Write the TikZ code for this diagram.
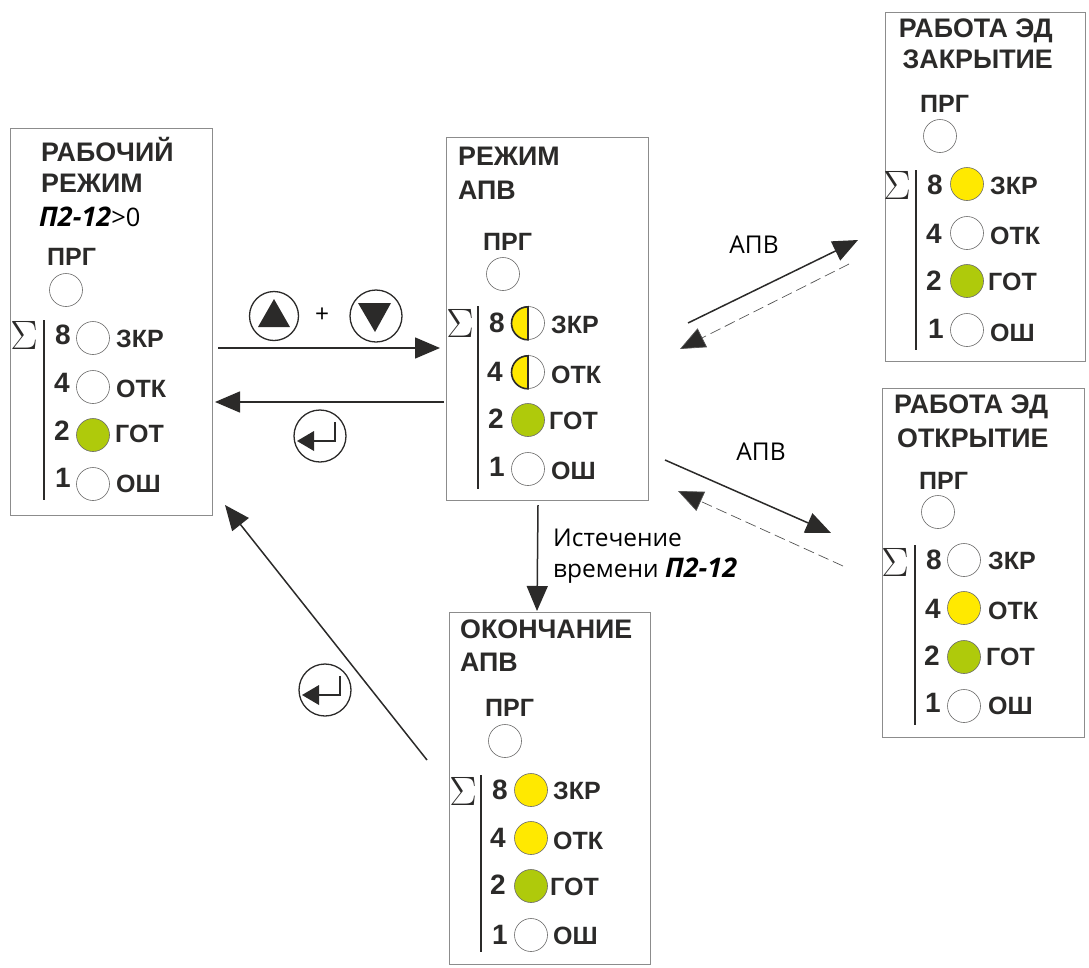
\documentclass[tikz,border=0pt]{standalone}
\usepackage{fontspec}
\setmainfont{Liberation Sans}
\newfontfamily\capfont{Open Sans}
\usetikzlibrary{arrows.meta}
\definecolor{ink}{HTML}{2B2A29}
\definecolor{ledy}{HTML}{FFE900}
\definecolor{ledg}{HTML}{AFCA0B}
\definecolor{frame}{HTML}{8C8C8C}
\tikzset{
  panel/.style={draw=frame,line width=1pt,fill=white,minimum width=0pt,minimum height=0pt,inner sep=0pt},
  ttl/.style={font=\bfseries\fontsize{26.8}{26.8}\selectfont,text=ink,anchor=west,inner sep=0pt,yshift=1.5pt},
  lab/.style={font=\bfseries\fontsize{25}{25}\selectfont,text=ink,anchor=west,inner sep=0pt},
  dig/.style={font=\bfseries\fontsize{28}{28}\selectfont,text=ink,inner sep=0pt},
  led/.style={circle,draw=ink!70,line width=.6pt,minimum size=33pt,inner sep=0pt},
  sig/.style={font=\fontsize{34}{34}\selectfont,text=ink,inner sep=0pt,scale=1.65},
  captxt/.style={font=\capfont\fontsize{24.5}{24.5}\selectfont,text=black,inner sep=0pt},
  btn/.style={circle,draw=ink,line width=1.3pt,inner sep=0pt},
  arr/.style={draw=ink,line width=1.5pt,-{Triangle[length=25pt,width=21pt,fill=ink]}},
  darr/.style={draw=ink!80,line width=.7pt,dash pattern=on 11pt off 5pt,-{Triangle[length=25pt,width=21pt,fill=ink]}},
}
% \ledrow{id}{digit}{dx,dy}{cx,cy}{fill}{lx,ly}{label}
\newcommand{\ledrow}[7]{%
  \node[dig] (#1d) at (#3) {#2};
  \node[led,fill=#5] (#1c) at (#4) {};
  \node[lab] (#1l) at (#6) {#7};
}
\newcommand{\ledhalf}[7]{%
  \node[dig] (#1d) at (#3) {#2};
  \node[led,fill=white] (#1c) at (#4) {};
  \filldraw[fill=#5,draw=ink,line width=1.6pt] (#1c.south) arc[start angle=-90,end angle=-270,radius=16.5pt] -- cycle;
  \node[lab] (#1l) at (#6) {#7};
}
\begin{document}
\begin{tikzpicture}[x=1pt,y=-1pt]
\useasboundingbox (0,0) rectangle (1089,967);
% ---- panels
\node[panel,minimum width=202pt,minimum height=387pt] (pa) at (111,321.5) {};
\node[panel,minimum width=202pt,minimum height=363pt] (pb) at (547,318.5) {};
\node[panel,minimum width=200pt,minimum height=349pt] (pc) at (985,186.5) {};
\node[panel,minimum width=202pt,minimum height=349pt] (pd) at (983,562.5) {};
\node[panel,minimum width=201pt,minimum height=352pt] (pe) at (549.5,788) {};
% ---- panel A
\node[ttl] (at1) at (41,151) {РАБОЧИЙ};
\node[ttl] (at2) at (41,185) {РЕЖИМ};
\node[anchor=west,inner sep=0pt,font=\capfont\fontsize{25.5}{25.5}\selectfont] (at3) at (39,217) {{\fontsize{27}{27}\selectfont\textbf{\textit{П2-12}}}>0};
\node[lab] (aprg) at (47,257) {ПРГ};
\node[led] (aled) at (66,290) {};
\node[sig] (asig) at (24,335) {$\Sigma$};
\coordinate (av1) at (44,320); \coordinate (av2) at (44,500);
\draw[ink,line width=1.3pt] (av1) -- (av2);
\ledrow{a8}{8}{63,335}{93,338}{white}{116,339}{ЗКР}
\ledrow{a4}{4}{62,383}{93,387}{white}{116,389}{ОТК}
\ledrow{a2}{2}{62,431}{93,435}{ledg}{115,434}{ГОТ}
\ledrow{a1}{1}{63,478}{93,484}{white}{116,484}{ОШ}
% ---- panel B
\node[ttl] (bt1) at (458,158) {РЕЖИМ};
\node[ttl] (bt2) at (458,192) {АПВ};
\node[lab] (bprg) at (483,242) {ПРГ};
\node[led] (bled) at (503,274) {};
\node[sig] (bsig) at (460,323) {$\Sigma$};
\coordinate (bv1) at (478,306); \coordinate (bv2) at (478,489);
\draw[ink,line width=1.3pt] (bv1) -- (bv2);
\ledhalf{b8}{8}{497,323}{528,323}{ledy}{551,325}{ЗКР}
\ledhalf{b4}{4}{495,372}{528,372}{ledy}{551,375}{ОТК}
\ledrow{b2}{2}{496,419}{528,420}{ledg}{549,421}{ГОТ}
\ledrow{b1}{1}{497,467}{528,469}{white}{551,471}{ОШ}
% ---- panel C
\node[ttl,anchor=east] (ct1) at (1053,32) {РАБОТА ЭД};
\node[ttl,anchor=east] (ct2) at (1053,61) {ЗАКРЫТИЕ};
\node[lab] (cprg) at (920,104) {ПРГ};
\node[led] (cled) at (940,136) {};
\node[sig] (csig) at (897,185) {$\Sigma$};
\coordinate (cv1) at (916,170); \coordinate (cv2) at (916,350);
\draw[ink,line width=1.3pt] (cv1) -- (cv2);
\ledrow{c8}{8}{935,185}{967,184}{ledy}{990,186}{ЗКР}
\ledrow{c4}{4}{934,234}{967,233}{white}{990,236}{ОТК}
\ledrow{c2}{2}{934,281}{967,281}{ledg}{988,282}{ГОТ}
\ledrow{c1}{1}{936,329}{967,330}{white}{990,333}{ОШ}
% ---- panel D
\node[ttl] (dt1) at (894,408) {РАБОТА ЭД};
\node[ttl] (dt2) at (897,440) {ОТКРЫТИЕ};
\node[lab] (dprg) at (919,481) {ПРГ};
\node[led] (dled) at (938,512) {};
\node[sig] (dsig) at (895,562) {$\Sigma$};
\coordinate (dv1) at (915,545); \coordinate (dv2) at (915,725);
\draw[ink,line width=1.3pt] (dv1) -- (dv2);
\ledrow{d8}{8}{934,560}{964,560}{white}{988,561}{ЗКР}
\ledrow{d4}{4}{933,609}{964,608}{ledy}{988,611}{ОТК}
\ledrow{d2}{2}{932,656}{964,657}{ledg}{986,657}{ГОТ}
\ledrow{d1}{1}{933,703}{964,706}{white}{988,706}{ОШ}
% ---- panel E
\node[ttl] (et1) at (460,631) {ОКОНЧАНИЕ};
\node[ttl] (et2) at (460,664) {АПВ};
\node[lab] (eprg) at (485,708) {ПРГ};
\node[led] (eled) at (505,741) {};
\node[sig] (esig) at (463,791) {$\Sigma$};
\coordinate (ev1) at (481,775); \coordinate (ev2) at (481,952);
\draw[ink,line width=1.3pt] (ev1) -- (ev2);
\ledrow{e8}{8}{500,790}{531,790}{ledy}{553,791}{ЗКР}
\ledrow{e4}{4}{498,838}{531,838}{ledy}{553,841}{ОТК}
\ledrow{e2}{2}{498,885}{531,886}{ledg}{550,887}{ГОТ}
\ledrow{e1}{1}{500,935}{531,935}{white}{553,936}{ОШ}
% ---- connector ends
\coordinate (ab1) at (218,348); \coordinate (ab2) at (440,348);
\coordinate (ba1) at (444,402); \coordinate (ba2) at (215,402);
\coordinate (ea1) at (427,760); \coordinate (ea2) at (225,505);
\coordinate (be1) at (538,505); \coordinate (be2) at (537,611);
\coordinate (bc1) at (688,323); \coordinate (bc2) at (858,240);
\coordinate (cb1) at (849,264); \coordinate (cb2) at (680,349);
\coordinate (bd1) at (665,460); \coordinate (bd2) at (831,533);
\coordinate (db1) at (843,566); \coordinate (db2) at (678,491);
\draw[arr] (ab1) -- (ab2);
\draw[arr] (ba1) -- (ba2);
\draw[arr] (ea1) -- (ea2);
\draw[arr] (be1) -- (be2);
\draw[arr] (bc1) -- (bc2);
\draw[darr] (cb1) -- (cb2);
\draw[arr] (bd1) -- (bd2);
\draw[darr] (db1) -- (db2);
% ---- buttons
\node[btn,minimum size=49pt] (up) at (274,316) {};
\fill[ink] (258,327) -- (274,299) -- (290,327) -- cycle;
\node[captxt] (plus) at (322,315) {+};
\node[btn,minimum size=52pt] (down) at (376,316) {};
\fill[ink] (358,303) -- (391,303) -- (375,332) -- cycle;
\node[btn,minimum size=52pt] (ent1) at (320,436) {};
\draw[ink,line width=1.2pt] (335,422) -- (335,441) -- (310,441);
\fill[ink] (297,441) -- (314,431) -- (314,451) -- cycle;
\node[btn,minimum size=52pt] (ent2) at (325,690) {};
\draw[ink,line width=1.2pt] (340,676) -- (340,695) -- (315,695);
\fill[ink] (302,695) -- (319,685) -- (319,705) -- cycle;
% ---- captions
\node[captxt,anchor=west] (c1) at (553,538) {Истечение};
\node[captxt,anchor=west] (c2) at (553,571) {времени {\fontsize{27}{27}\selectfont\textbf{\textit{П2-12}}}};
\node[captxt] (c3) at (754,245) {АПВ};
\node[captxt] (c4) at (761,452) {АПВ};
\end{tikzpicture}
\end{document}
